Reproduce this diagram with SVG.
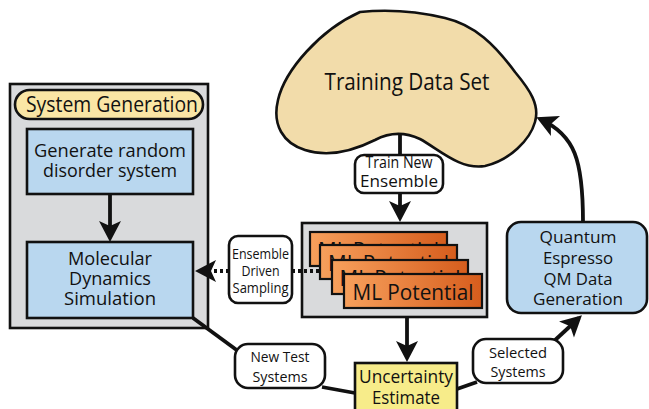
<svg xmlns="http://www.w3.org/2000/svg" width="649" height="409" viewBox="0 0 649 409">
<defs>
<style>
text{font-family:"Open Sans","Noto Sans","Liberation Sans",sans-serif;fill:#111;text-anchor:middle}
.box{stroke:#111;stroke-width:2.6}
.panel{fill:#d9dadc}
.blue{fill:#b9d7ef}
.lbl{fill:#fff}
.ln{fill:none;stroke:#111;stroke-width:3.8}
.dot{fill:none;stroke:#111;stroke-width:4;stroke-dasharray:3 3}
.card{fill:url(#og);stroke:#111;stroke-width:2.2}
</style>
<linearGradient id="og" x1="0" y1="0" x2="1" y2="0">
<stop offset="0" stop-color="#f7a05c"/>
<stop offset="1" stop-color="#d65d1d"/>
</linearGradient>
<marker id="ah" viewBox="-18 -12 23 24" refX="0" refY="0" markerWidth="23" markerHeight="24" markerUnits="userSpaceOnUse" orient="auto">
<path d="M4,0 L-17,-11 L-12,0 L-17,11 Z" fill="#111"/>
</marker>
</defs>

<g id="system-generation">
<rect class="box panel" x="10" y="84" width="198" height="244"/>
<rect class="box" x="15" y="90" width="188" height="29" rx="14.5" fill="#fae6a5"/>
<text x="112" y="112" font-size="21" textLength="172" lengthAdjust="spacingAndGlyphs">System Generation</text>
</g>

<g id="generate-random">
<rect class="box blue" x="27" y="129" width="166" height="65"/>
<text x="110" y="157" font-size="18.5" textLength="152" lengthAdjust="spacingAndGlyphs">Generate random</text>
<text x="110" y="177" font-size="18.5" textLength="134" lengthAdjust="spacingAndGlyphs">disorder system</text>
</g>

<g id="molecular-dynamics">
<rect class="box blue" x="27" y="242" width="166" height="76"/>
<text x="110" y="265" font-size="18.5" textLength="84" lengthAdjust="spacingAndGlyphs">Molecular</text>
<text x="110" y="285" font-size="18.5" textLength="82" lengthAdjust="spacingAndGlyphs">Dynamics</text>
<text x="110" y="305" font-size="18.5" textLength="92" lengthAdjust="spacingAndGlyphs">Simulation</text>
</g>

<g id="training-data-set">
<path class="box" fill="#f2dcaa" d="M360,12 C390,9 420,12 445,18 C475,25 495,45 515,72 C530,90 540,105 535,122 C530,140 510,160 485,166 C460,170 440,150 420,139 C405,132 390,132 375,140 C355,150 330,158 305,150 C283,143 272,125 278,100 C285,70 320,30 360,12 Z"/>
<text x="407" y="90" font-size="24" textLength="165" lengthAdjust="spacingAndGlyphs">Training Data Set</text>
</g>

<g id="ml-potential-ensemble">
<rect class="box panel" x="302" y="223" width="185" height="94"/>
<rect class="card" x="310" y="232" width="137" height="34"/>
<text x="378.5" y="258" font-size="22" textLength="121" lengthAdjust="spacingAndGlyphs">ML Potential</text>
<rect class="card" x="320" y="245" width="137" height="34"/>
<text x="388.5" y="271" font-size="22" textLength="121" lengthAdjust="spacingAndGlyphs">ML Potential</text>
<rect class="card" x="332" y="260" width="136" height="34"/>
<text x="400" y="286" font-size="22" textLength="121" lengthAdjust="spacingAndGlyphs">ML Potential</text>
<rect class="card" x="344" y="274" width="138" height="34"/>
<text x="413" y="300" font-size="22" textLength="121" lengthAdjust="spacingAndGlyphs">ML Potential</text>
</g>

<g id="uncertainty-estimate">
<rect class="box" x="355" y="363" width="102" height="50" fill="#f7ec8a"/>
<text x="406" y="383" font-size="18.5" textLength="94" lengthAdjust="spacingAndGlyphs">Uncertainty</text>
<text x="406" y="404" font-size="18.5" textLength="68" lengthAdjust="spacingAndGlyphs">Estimate</text>
</g>

<g id="quantum-espresso">
<rect class="box blue" x="507" y="222" width="140" height="91" rx="14"/>
<text x="578" y="243" font-size="16.5" textLength="77" lengthAdjust="spacingAndGlyphs">Quantum</text>
<text x="578" y="264" font-size="16.5" textLength="70" lengthAdjust="spacingAndGlyphs">Espresso</text>
<text x="578" y="285" font-size="16.5" textLength="69" lengthAdjust="spacingAndGlyphs">QM Data</text>
<text x="578" y="305" font-size="16.5" textLength="90" lengthAdjust="spacingAndGlyphs">Generation</text>
</g>

<g id="connectors">
<path class="ln" d="M110,194 L110,238" marker-end="url(#ah)"/>
<path class="ln" d="M400,134 L400,155"/>
<path class="ln" d="M400,193 L400,218" marker-end="url(#ah)"/>
<path class="ln" d="M407,317 L407,358" marker-end="url(#ah)"/>
<path class="dot" d="M319,271 L293,271"/>
<path class="dot" d="M229,271 L199,271" marker-end="url(#ah)"/>
<path class="ln" d="M193,318 L238,351"/>
<path class="ln" d="M322,387 L355,393"/>
<path class="ln" d="M457,389 L477,382"/>
<path class="ln" d="M553,342 L579,318" marker-end="url(#ah)"/>
<path class="ln" d="M583,222 C583,160 575,135 540,119" marker-end="url(#ah)"/>
</g>

<g id="label-train-new-ensemble">
<rect class="box lbl" x="355" y="155" width="88" height="38" rx="9"/>
<text x="399" y="168" font-size="15.5" textLength="67" lengthAdjust="spacingAndGlyphs">Train New</text>
<text x="399" y="187" font-size="15.5" textLength="78" lengthAdjust="spacingAndGlyphs">Ensemble</text>
</g>

<g id="label-ensemble-driven-sampling">
<rect class="box lbl" x="229" y="236" width="63" height="67" rx="9"/>
<text x="260.5" y="259" font-size="14" textLength="57" lengthAdjust="spacingAndGlyphs">Ensemble</text>
<text x="260.5" y="276" font-size="14" textLength="38" lengthAdjust="spacingAndGlyphs">Driven</text>
<text x="260.5" y="293" font-size="14" textLength="56" lengthAdjust="spacingAndGlyphs">Sampling</text>
</g>

<g id="label-new-test-systems">
<rect class="box lbl" x="235" y="344" width="90" height="44" rx="13"/>
<text x="280" y="362" font-size="14.5" textLength="59" lengthAdjust="spacingAndGlyphs">New Test</text>
<text x="280" y="382" font-size="14.5" textLength="55" lengthAdjust="spacingAndGlyphs">Systems</text>
</g>

<g id="label-selected-systems">
<rect class="box lbl" x="473" y="339" width="90" height="44" rx="13"/>
<text x="518" y="358" font-size="14.5" textLength="58" lengthAdjust="spacingAndGlyphs">Selected</text>
<text x="518" y="377" font-size="14.5" textLength="55" lengthAdjust="spacingAndGlyphs">Systems</text>
</g>
</svg>
